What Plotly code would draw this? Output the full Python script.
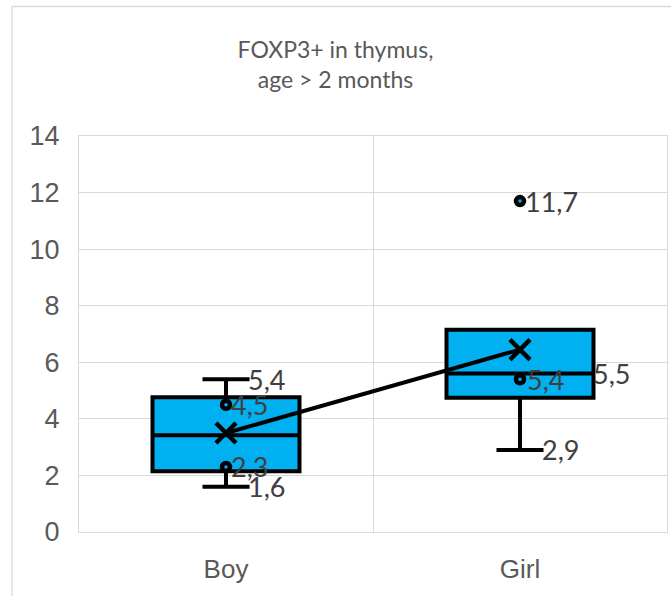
import plotly.graph_objects as go

categories = ["Boy", "Girl"]
q1 = [2.15, 4.75]
median = [3.42, 5.6]
q3 = [4.76, 7.15]
lower = [1.6, 2.9]
upper = [5.4, 7.15]
means = [3.5, 6.45]

# individual points (inner points and outliers)
pt_x = ["Boy", "Boy", "Girl", "Girl"]
pt_y = [4.5, 2.3, 5.4, 11.7]

# data labels
lab_x = ["Boy", "Boy", "Boy", "Boy", "Girl", "Girl", "Girl", "Girl"]
lab_y = [5.4, 4.5, 2.3, 1.6, 11.7, 5.4, 5.6, 2.9]
lab_t = ["5,4", "4,5", "2,3", "1,6", "11,7", "5,4", "5,5", "2,9"]
lab_shift = [20, 3, 3, 20, 3, 5, 71, 20]

BLUE = "#00B0F0"
GREY = "#595959"

fig = go.Figure()
fig.add_trace(go.Box(
    x=categories, q1=q1, median=median, q3=q3,
    lowerfence=lower, upperfence=upper,
    width=0.5, whiskerwidth=0.32,
    fillcolor=BLUE, line=dict(color="black", width=4),
    boxpoints=False, showlegend=False, hoverinfo="skip",
))
fig.add_trace(go.Scatter(
    x=categories, y=means, mode="lines+markers",
    line=dict(color="black", width=4),
    marker=dict(symbol="x-thin", size=20, line=dict(color="black", width=4.5)),
    showlegend=False,
))
fig.add_trace(go.Scatter(
    x=pt_x, y=pt_y, mode="markers",
    marker=dict(symbol="circle", size=8, color=BLUE, line=dict(color="black", width=4.5)),
    showlegend=False,
))

for cx, cy, t, s in zip(lab_x, lab_y, lab_t, lab_shift):
    fig.add_annotation(x=cx, y=cy, text=t, showarrow=False, xanchor="left",
                       xshift=s, yshift=0,
                       font=dict(family="Lato", size=27, color="#404040"))

fig.update_layout(
    width=671, height=596,
    margin=dict(l=79, r=4, t=136, b=64),
    paper_bgcolor="white", plot_bgcolor="white",
    title=dict(text="FOXP3+ in thymus,<br>age > 2 months", x=0.5, xanchor="center",
               y=0.903, yanchor="top",
               font=dict(family="Lato", size=23, color=GREY)),
    xaxis=dict(type="category", categoryorder="array", categoryarray=categories,
               tickson="boundaries", showgrid=True, gridcolor="#D9D9D9", gridwidth=1.3,
               ticks="", showline=True, linecolor="#D9D9D9", linewidth=1.3, mirror=True,
               ticklabelstandoff=14,
               tickfont=dict(family="Liberation Sans", size=26, color=GREY),
               range=[-0.5, 1.5]),
    yaxis=dict(range=[0, 14], dtick=2, showgrid=True, gridcolor="#D9D9D9", gridwidth=1.3,
               zeroline=False, showline=True, linecolor="#D9D9D9", linewidth=1.3, mirror=True,
               ticks="", ticklabelstandoff=13,
               tickfont=dict(family="Liberation Sans", size=27, color=GREY)),
    shapes=[dict(type="rect", xref="paper", yref="paper",
                 x0=-0.114, x1=1.2, y0=-0.3, y1=1.327,
                 line=dict(color="#D9D9D9", width=1.3), fillcolor="rgba(0,0,0,0)",
                 layer="below")],
)

fig.write_html("out.html", config={"displayModeBar": False},
               post_script="document.body.style.margin='0';")
